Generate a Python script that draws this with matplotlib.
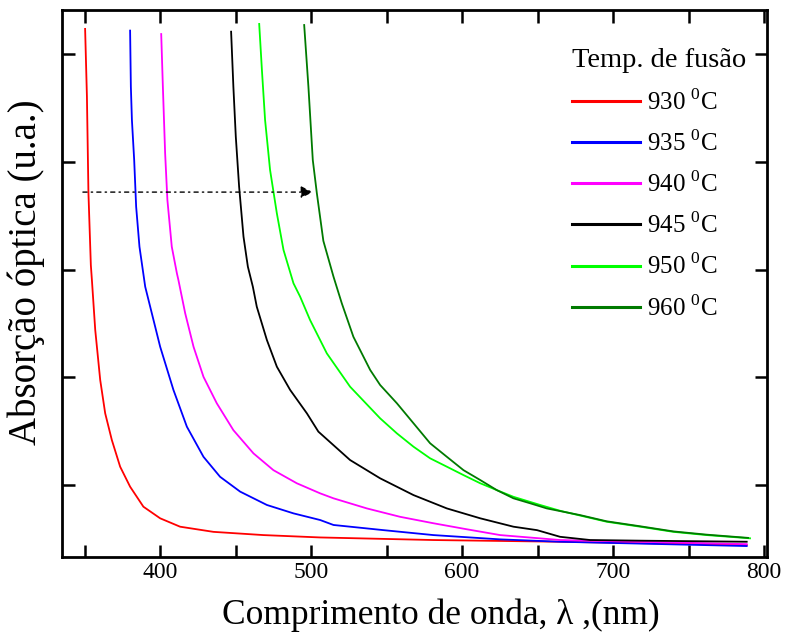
import matplotlib.pyplot as plt
from matplotlib.ticker import MultipleLocator

plt.rcParams['font.family'] = ['Liberation Serif', 'DejaVu Serif']
plt.rcParams['mathtext.fontset'] = 'custom'
plt.rcParams['mathtext.rm'] = 'Liberation Serif'

# curvas (comprimento de onda em nm, absorcao em u.a.)
x930 = [350.3, 351.5, 352.5, 354.1, 354.8, 357.0, 360.3, 363.6, 368.0, 373.5, 380.1,
        388.9, 400.0, 413.2, 435.3, 468.4, 506.0, 580.8, 664.9, 788.5]
y930 = [2.619, 2.304, 1.856, 1.520, 1.451, 1.219, 0.986, 0.831, 0.707, 0.583, 0.490,
        0.397, 0.343, 0.304, 0.280, 0.265, 0.254, 0.242, 0.234, 0.219]

x935 = [380.1, 380.6, 381.3, 382.8, 384.1, 386.3, 390.1, 393.4, 400.0, 408.8, 417.7,
        428.7, 439.7, 453.0, 470.7, 488.3, 506.0, 514.8, 547.9, 581.0, 625.2, 664.9, 788.5]
y935 = [2.611, 2.350, 2.195, 2.009, 1.792, 1.606, 1.420, 1.327, 1.141, 0.940, 0.769,
        0.629, 0.536, 0.467, 0.405, 0.366, 0.335, 0.312, 0.288, 0.265, 0.245, 0.234, 0.214]

x940 = [400.7, 401.8, 403.3, 404.8, 407.7, 411.1, 412.1, 416.6, 422.1, 428.7, 437.5,
        448.5, 461.8, 475.0, 490.5, 506.0, 514.8, 536.9, 558.9, 581.0, 603.1, 625.2,
        664.9, 788.5]
y940 = [2.595, 2.350, 2.040, 1.823, 1.606, 1.482, 1.451, 1.296, 1.141, 1.001, 0.878,
        0.753, 0.645, 0.567, 0.506, 0.459, 0.436, 0.389, 0.350, 0.320, 0.292, 0.265,
        0.242, 0.223]

x945 = [447.0, 448.5, 450.1, 452.3, 455.2, 458.1, 461.4, 464.0, 470.7, 477.3, 486.1,
        497.2, 504.8, 525.8, 545.7, 567.8, 589.9, 612.0, 634.0, 649.6, 664.9, 684.8,
        717.9, 788.5]
y945 = [2.606, 2.350, 2.118, 1.885, 1.653, 1.513, 1.420, 1.327, 1.172, 1.048, 0.940,
        0.831, 0.746, 0.614, 0.529, 0.451, 0.389, 0.343, 0.304, 0.288, 0.257, 0.242,
        0.239, 0.234]

x950 = [465.6, 467.4, 469.5, 472.8, 477.3, 481.7, 488.3, 492.7, 499.3, 510.4, 525.8,
        545.7, 556.8, 567.8, 578.8, 589.9, 600.9, 612.0, 623.0, 634.0, 651.7, 664.9,
        678.1, 695.8, 717.9, 740.0, 762.0, 790.7]
y950 = [2.642, 2.428, 2.195, 1.963, 1.761, 1.591, 1.436, 1.374, 1.265, 1.110, 0.955,
        0.808, 0.738, 0.676, 0.622, 0.583, 0.544, 0.506, 0.474, 0.443, 0.405, 0.378,
        0.356, 0.327, 0.304, 0.280, 0.265, 0.250]

x960 = [495.4, 498.2, 501.1, 503.8, 508.1, 514.8, 520.3, 528.0, 539.1, 545.7, 556.8,
        567.8, 578.8, 589.9, 600.9, 612.0, 623.0, 634.0, 645.0, 656.1, 678.1, 695.8,
        717.9, 740.0, 762.0, 789.4]
y960 = [2.637, 2.350, 2.009, 1.854, 1.633, 1.467, 1.343, 1.187, 1.033, 0.963, 0.878,
        0.785, 0.692, 0.629, 0.567, 0.521, 0.474, 0.436, 0.413, 0.389, 0.358, 0.329,
        0.306, 0.282, 0.267, 0.252]

series = [(x930, y930, '#ff0000', '930 $^0$C'),
          (x935, y935, '#0000ff', '935 $^0$C'),
          (x940, y940, '#ff00ff', '940 $^0$C'),
          (x945, y945, '#000000', '945 $^0$C'),
          (x950, y950, '#00ff00', '950 $^0$C'),
          (x960, y960, '#007a00', '960 $^0$C')]

fig = plt.figure(figsize=(7.9, 6.39), dpi=100)
ax = fig.add_axes([0.0785, 0.1283, 0.8925, 0.8561])

for x, y, c, lab in series:
    ax.plot(x, y, color=c, lw=1.3, label=lab)

# seta pontilhada
ax.annotate('', xy=(503, 1.86), xytext=(347, 1.86),
            arrowprops=dict(arrowstyle='-|>', color='black', lw=1.0,
                            linestyle=(0, (3, 3, 1, 3)), mutation_scale=18))

ax.set_xlim(335, 802)
ax.set_ylim(0.163, 2.707)
ax.xaxis.set_major_locator(MultipleLocator(100))
ax.xaxis.set_minor_locator(MultipleLocator(50))
ax.yaxis.set_major_locator(MultipleLocator(1))
ax.yaxis.set_minor_locator(MultipleLocator(0.5))
ax.tick_params(which='both', direction='in', top=True, right=True, width=1.8)
ax.tick_params(which='major', length=9, labelsize=17)
ax.tick_params(which='minor', length=9)
ax.tick_params(axis='y', labelleft=False)
for s in ax.spines.values():
    s.set_linewidth(2)

ax.set_xlabel('Comprimento de onda, λ ,(nm)', fontsize=25.5)
ax.set_ylabel('Absorção óptica (u.a.)', fontsize=28)
ax.xaxis.set_label_coords(0.5376, -0.075, transform=ax.transAxes)
ax.yaxis.set_label_coords(-0.024, 0.521, transform=ax.transAxes)

leg = ax.legend(title='Temp. de fusão', loc='upper right', frameon=False,
                fontsize=18, title_fontsize=20.5, handlelength=2.7, handletextpad=0.3,
                labelspacing=0.62, borderaxespad=0.0, bbox_to_anchor=(0.985, 0.948))
leg._legend_box.align = 'left'
for h in leg.get_lines():
    h.set_linewidth(2.2)

fig.savefig('out.png', dpi=100)
